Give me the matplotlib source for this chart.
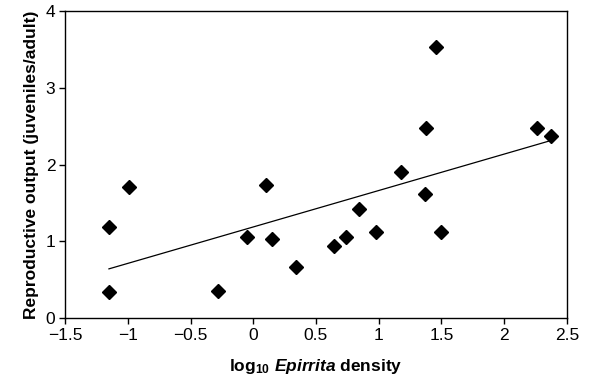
import numpy as np
import matplotlib
matplotlib.use("Agg")
import matplotlib.pyplot as plt

plt.rcParams["font.family"] = ["Liberation Sans", "DejaVu Sans"]
plt.rcParams["mathtext.fontset"] = "custom"
plt.rcParams["mathtext.rm"] = "Liberation Sans:bold"
plt.rcParams["mathtext.it"] = "Liberation Sans:bold:italic"
plt.rcParams["mathtext.bf"] = "Liberation Sans:bold"

# log10 Epirrita density vs reproductive output
log_density = [-1.15, -1.15, -0.99, -0.28, -0.05, 0.10, 0.15, 0.34, 0.64, 0.74,
               0.84, 0.98, 1.18, 1.37, 1.38, 1.46, 1.50, 2.26, 2.37]
output = [1.18, 0.34, 1.71, 0.35, 1.05, 1.73, 1.03, 0.67, 0.94, 1.05,
          1.42, 1.12, 1.90, 1.62, 2.48, 3.53, 1.12, 2.48, 2.37]

x = np.array(log_density)
y = np.array(output)
slope, intercept = np.polyfit(x, y, 1)
xl = np.array([x.min(), x.max()])

fig = plt.figure(figsize=(5.89, 3.77), dpi=100)
ax = fig.add_axes([0.1104, 0.1565, 0.8522, 0.8143])

ax.plot(xl, slope * xl + intercept, color="black", lw=0.9)
ax.plot(x, y, "D", color="black", ms=7.5, mec="black")

ax.set_xlim(-1.5, 2.5)
ax.set_ylim(0, 4)
ax.set_xticks([-1.5, -1, -0.5, 0, 0.5, 1, 1.5, 2, 2.5])
ax.set_xticklabels(["\u22121.5", "\u22121", "\u22120.5", "0", "0.5", "1", "1.5", "2", "2.5"])
ax.set_yticks([0, 1, 2, 3, 4])
ax.tick_params(direction="out", length=4, width=1, labelsize=12.5, pad=3)
for s in ax.spines.values():
    s.set_linewidth(1)

ax.set_ylabel("Reproductive output (juveniles/adult)", fontsize=12.5,
              fontweight="bold", labelpad=5)
ax.set_xlabel(r"$\mathrm{log}_{10}$ $\mathit{Epirrita}$ density", fontsize=12.5,
              fontweight="bold", labelpad=10)

fig.savefig("out.png", dpi=100)
